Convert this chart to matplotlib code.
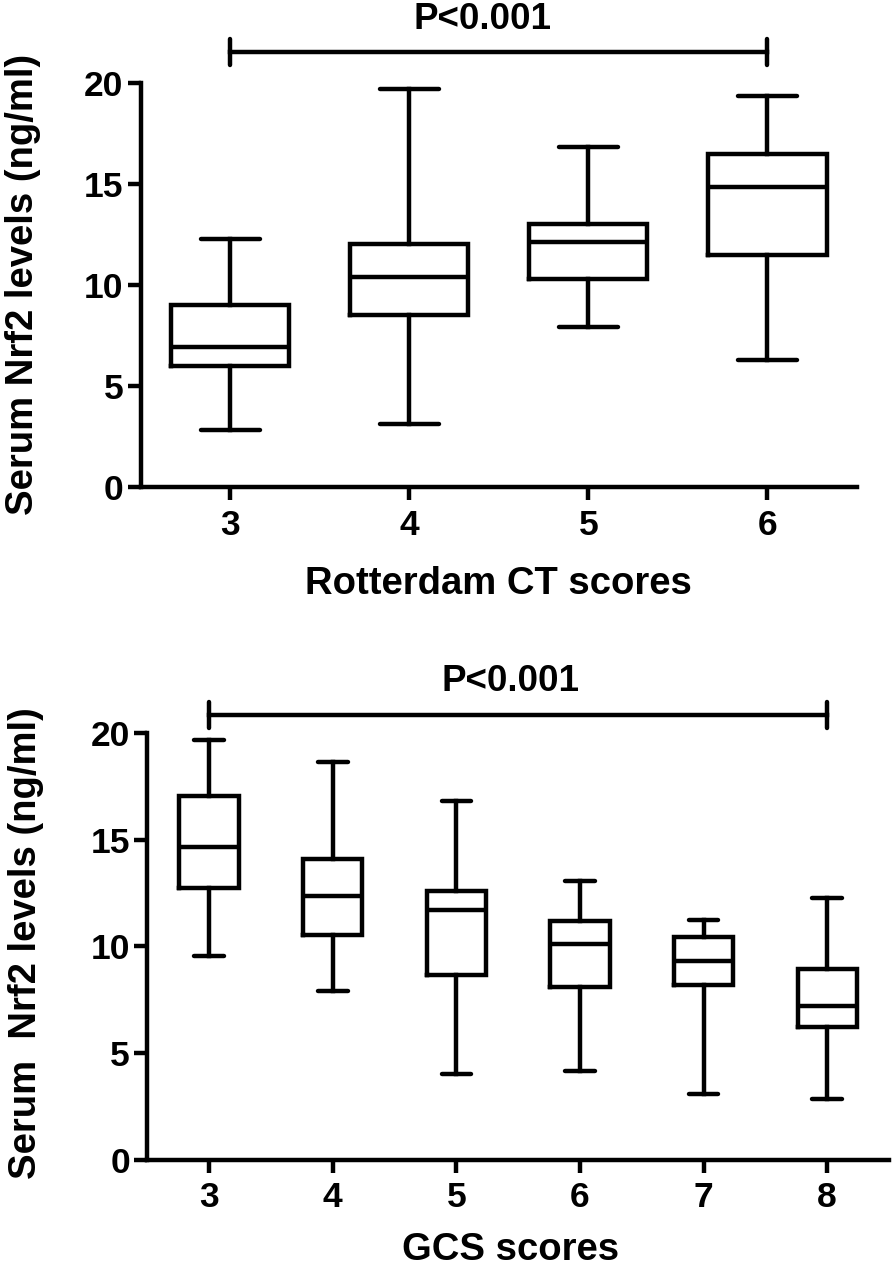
import matplotlib
matplotlib.use("Agg")
import matplotlib.pyplot as plt

plt.rcParams['font.family'] = ['Liberation Sans', 'DejaVu Sans']
plt.rcParams['font.weight'] = 'bold'

# Rotterdam CT scores (top panel)
ct_scores = [3, 4, 5, 6]
ct_whislo = [2.85, 3.13, 7.92, 6.32]
ct_q1 = [6.02, 8.51, 10.31, 11.49]
ct_med = [6.93, 10.41, 12.14, 14.83]
ct_q3 = [9.04, 12.02, 13.01, 16.47]
ct_whishi = [12.27, 19.70, 16.81, 19.32]

# GCS scores (bottom panel)
gcs_scores = [3, 4, 5, 6, 7, 8]
gcs_whislo = [9.56, 7.92, 4.04, 4.15, 3.10, 2.85]
gcs_q1 = [12.71, 10.55, 8.66, 8.09, 8.21, 6.22]
gcs_med = [14.63, 12.38, 11.68, 10.12, 9.33, 7.23]
gcs_q3 = [17.03, 14.07, 12.60, 11.19, 10.42, 8.92]
gcs_whishi = [19.66, 18.61, 16.79, 13.07, 11.23, 12.24]

y_ticks = [0, 5, 10, 15, 20]
p_text = "P<0.001"

W, H = 893, 1268
LW = 3.2
fig = plt.figure(figsize=(W / 100, H / 100), dpi=100)


def panel(rect, cats, lo, q1, med, q3, hi, width, xlabel, ylabel,
          ylab_xy, bar_y, bar_h, txt_x, txt_y):
    ax = fig.add_axes(rect)
    stats = []
    for i in range(len(cats)):
        stats.append(dict(whislo=lo[i], q1=q1[i], med=med[i], q3=q3[i], whishi=hi[i]))
    line = dict(color='black', linewidth=LW)
    ax.bxp(stats, positions=cats, widths=width, showfliers=False,
           boxprops=dict(color='black', linewidth=LW, solid_joinstyle='miter'),
           whiskerprops=line,
           capprops=dict(color='black', linewidth=LW, solid_capstyle='round'),
           medianprops=dict(color='black', linewidth=LW))
    ax.set_xlim(cats[0] - 0.5, cats[-1] + 0.5)
    ax.set_ylim(0, 20)
    ax.set_xticks(cats)
    ax.set_xticklabels([str(c) for c in cats])
    ax.set_yticks(y_ticks)
    for s in ['top', 'right']:
        ax.spines[s].set_visible(False)
    for s in ['left', 'bottom']:
        ax.spines[s].set_linewidth(LW)
    ax.tick_params(axis='both', width=LW, length=9.4, labelsize=25.5)
    ax.tick_params(axis='x', pad=6)
    ax.tick_params(axis='y', pad=3)
    ax.set_xlabel(xlabel, fontsize=27.5, fontweight='bold')
    ax.set_ylabel(ylabel, fontsize=27.5, fontweight='bold')
    ax.yaxis.set_label_coords(ylab_xy[0] / W, 1 - ylab_xy[1] / H, transform=fig.transFigure)
    ax.yaxis.label.set_va('center')

    # significance bar spanning first to last group
    x0, x1 = cats[0], cats[-1]
    ax.plot([x0, x1], [bar_y, bar_y], color='black', lw=LW, clip_on=False)
    for xx in (x0, x1):
        ax.plot([xx, xx], [bar_y - bar_h, bar_y + bar_h], color='black', lw=LW,
                solid_capstyle='round', clip_on=False)
    ax.text(txt_x, txt_y, p_text, ha='center', va='center', fontsize=26.5,
            fontweight='bold')
    return ax


ax1 = panel([140.5 / W, 1 - 487.5 / H, (857 - 140.5) / W, (487.5 - 82.7) / H],
            ct_scores, ct_whislo, ct_q1, ct_med, ct_q3, ct_whishi, 0.66,
            "Rotterdam CT scores", "Serum Nrf2 levels (ng/ml)",
            (23, 284), 21.5, 0.65, 4.41, 23.1)
ax1.xaxis.set_label_coords(498 / W, 1 - 566 / H, transform=fig.transFigure)

ax2 = panel([147.3 / W, 1 - 1160 / H, (889 - 147.3) / W, (1160 - 732.7) / H],
            gcs_scores, gcs_whislo, gcs_q1, gcs_med, gcs_q3, gcs_whishi, 0.48,
            "GCS scores", "Serum  Nrf2 levels (ng/ml)",
            (26, 943), 20.84, 0.62, 5.44, 22.4)
ax2.xaxis.set_label_coords(511 / W, 1 - 1232 / H, transform=fig.transFigure)

fig.savefig("out.png", dpi=100)
